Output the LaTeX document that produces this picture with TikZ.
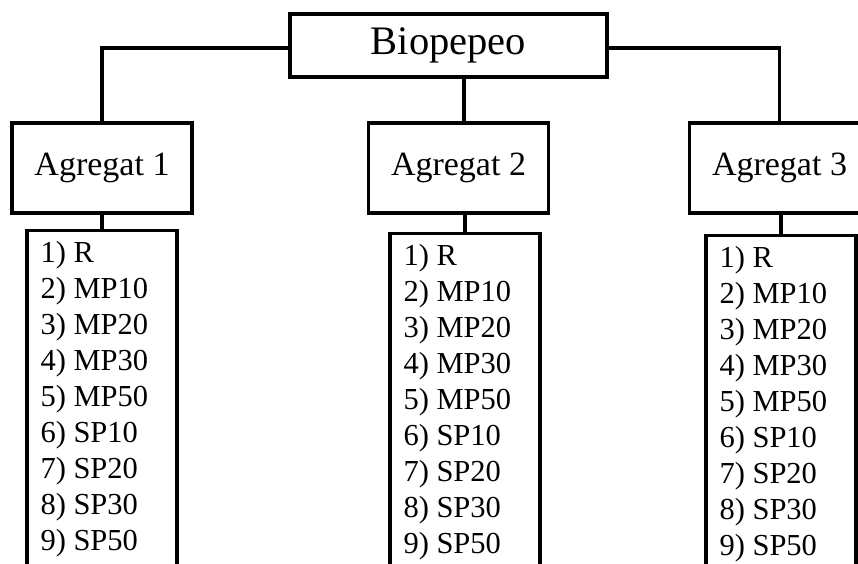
\documentclass[tikz,border=0pt]{standalone}
\usepackage{fontspec}
\setmainfont{Liberation Serif}
\begin{document}
\begin{tikzpicture}[x=1pt,y=-1pt,
  box/.style={draw,line width=3.4pt,inner sep=0pt},
  conn/.style={line width=3.4pt},
  aggbox/.style={box,minimum width=180pt,minimum height=90pt,font=\fontsize{34}{40}\selectfont},
  listbox/.style={box,minimum width=150pt,minimum height=360pt,anchor=north},
  listtext/.style={anchor=north west,inner sep=0pt,align=left,font=\fontsize{30.5}{36}\selectfont}]
\useasboundingbox (0,0) rectangle (858,563);
\clip (0,0) rectangle (858,563);
\node[box,minimum width=317pt,minimum height=63pt,font=\fontsize{40.5}{46}\selectfont] (bio) at (448.5,45.5) {Biopepeo};
\node[aggbox] (a1) at (102,168) {Agregat 1};
\node[aggbox] (a2) at (458.5,168) {Agregat 2};
\node[aggbox] (a3) at (779.5,168) {Agregat 3};
\node[listbox] (l1) at (102,229) {};
\node[listbox] (l2) at (465,232) {};
\node[listbox] (l3) at (781,234) {};
\foreach \l in {l1,l2,l3}{
  \node[listtext] (\l t) at ([xshift=15pt,yshift=-12.5pt]\l.north west)
    {1) R\\2) MP10\\3) MP20\\4) MP30\\5) MP50\\6) SP10\\7) SP20\\8) SP30\\9) SP50};
}
\draw[conn] ([yshift=-2.5pt]bio.west) -| (a1.north);
\draw[conn] ([yshift=-2.5pt]bio.east) -| (a3.north);
\draw[conn] ([xshift=15.5pt]bio.south) -- ([xshift=5.5pt]a2.north);
\draw[conn] (a1.south) -- (l1.north);
\draw[conn] ([xshift=6.5pt]a2.south) -- (l2.north);
\draw[conn] ([xshift=1.5pt]a3.south) -- (l3.north);
\end{tikzpicture}
\end{document}
